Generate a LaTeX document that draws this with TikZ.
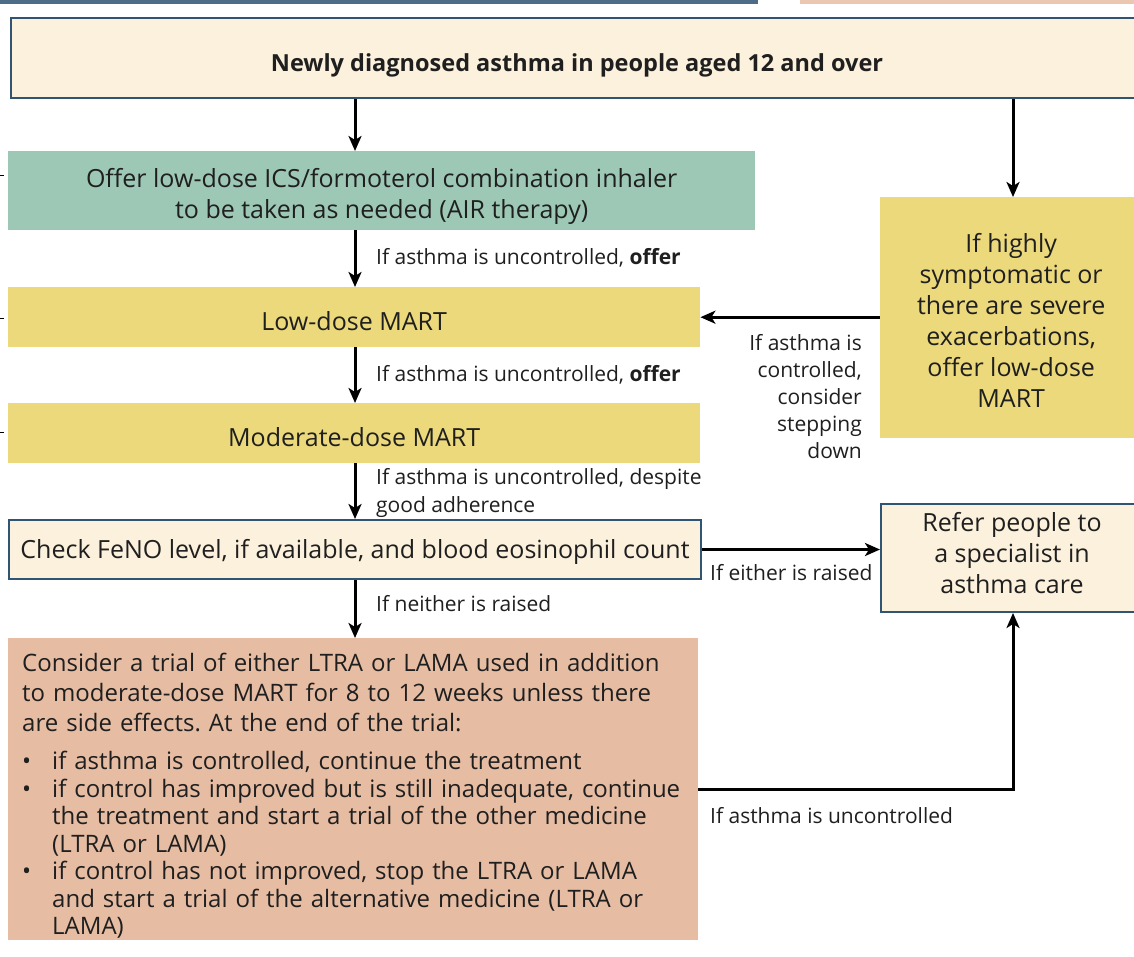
\documentclass[tikz,border=0pt]{standalone}
\usepackage{fontspec}
\setmainfont{Open Sans}
\usetikzlibrary{arrows.meta}

\definecolor{cream}{HTML}{FBF1DC}
\definecolor{edgeblue}{HTML}{2F5474}
\definecolor{sage}{HTML}{9DC8B5}
\definecolor{mustard}{HTML}{ECD97C}
\definecolor{peach}{HTML}{E6BCA3}
\definecolor{barblue}{HTML}{4C6C88}
\definecolor{barpeach}{HTML}{EBC7B2}

\frenchspacing
% vertical struts that set where a box's text sits
\newcommand{\topstrut}[1]{\rule{0pt}{#1}}
\newcommand{\botstrut}[1]{\rule[-#1]{0pt}{0pt}}

\begin{document}
\begin{tikzpicture}[x=1pt,y=-1pt,
  box/.style={anchor=north west, inner sep=0pt, align=center,
    font=\fontsize{25}{31}\selectfont, text=black!88},
  framed/.style={box, fill=cream, draw=edgeblue, line width=2pt},
  lbl/.style={inner sep=0pt, font=\fontsize{21}{27}\selectfont, text=black!88},
  arr/.style={line width=3pt, -{Stealth[length=15pt,width=13pt,inset=4pt]}}
]
\useasboundingbox (0,0) rectangle (1134,956);
\clip (0,0) rectangle (1134,956);
\fill[white] (0,0) rectangle (1134,956);

% edges of the panels that sit above this chart
\fill[barblue] (0,0) rectangle (758,4);
\fill[barpeach] (800,0) rectangle (1134,4);

% small marks on the left margin
\foreach \yy in {175,318,432} \draw[black, line width=0.8pt] (0,\yy) -- (4,\yy);

% boxes
\node[framed, minimum width=1132pt, minimum height=80pt,
  font=\bfseries\fontsize{23.5}{28}\selectfont] (start) at (10,17)
  {\topstrut{32pt}Newly diagnosed asthma in people aged 12 and over};

\node[box, fill=sage, minimum width=747pt, minimum height=79pt] (air) at (8,151)
  {\topstrut{31pt}Offer low-dose ICS/formoterol combination inhaler\\to be taken as needed (AIR therapy)};

\node[box, fill=mustard, minimum width=692pt, minimum height=60pt,
  text height=27pt, text depth=0pt] (lowmart) at (8,287)
  {Low-dose MART};

\node[box, fill=mustard, minimum width=692pt, minimum height=60pt,
  text height=27pt, text depth=0pt] (modmart) at (8,403)
  {Moderate-dose MART};

\node[framed, minimum width=692pt, minimum height=59pt,
  text height=23pt, text depth=6pt] (feno) at (8,519)
  {Check FeNO level, if available, and blood eosinophil count};

\node[box, fill=mustard, minimum width=262pt, minimum height=241pt] (severe) at (880,197)
  {\topstrut{25pt}If highly\\symptomatic or\\there are severe\\exacerbations,\\offer low-dose\\MART};

\node[framed, minimum width=262pt, minimum height=108pt] (refer) at (880,503)
  {Refer people to\\a specialist in\\asthma care\botstrut{10pt}};

\node[box, fill=peach, minimum width=690pt, minimum height=302pt, align=left,
  text width=662pt, inner xsep=14pt, font=\fontsize{24}{30}\selectfont] (trial) at (8,638)
  {\topstrut{32pt}Consider a trial of either LTRA or LAMA used in addition\\
   to moderate-dose MART for 8 to 12 weeks unless there\\
   are side effects. At the end of the trial:\\[8pt]
   \makebox[30pt][l]{\textbullet}if asthma is controlled, continue the treatment\\[-2.5pt]
   \makebox[30pt][l]{\textbullet}if control has improved but is still inadequate, continue\\[-2.5pt]
   \hspace*{30pt}the treatment and start a trial of the other medicine\\[-2.5pt]
   \hspace*{30pt}(LTRA or LAMA)\\[-2.5pt]
   \makebox[30pt][l]{\textbullet}if control has not improved, stop the LTRA or LAMA\\[-2.5pt]
   \hspace*{30pt}and start a trial of the alternative medicine (LTRA or\\[-2.5pt]
   \hspace*{30pt}LAMA)};

% connectors
\coordinate (colx) at (355,0);
\coordinate (colr) at (1013,0);
\draw[arr] (start.south -| colx) -- (air.north -| colx);
\draw[arr] (start.south -| colr) -- (severe.north -| colr);
\draw[arr] (air.south -| colx) -- (lowmart.north -| colx);
\draw[arr] (lowmart.south -| colx) -- (modmart.north -| colx);
\draw[arr] (modmart.south -| colx) -- (feno.north -| colx);
\draw[arr] (feno.south -| colx) -- (trial.north -| colx);
\draw[arr] (severe.west |- lowmart.east) -- (lowmart.east);
\draw[arr] (feno.east) -- (refer.west |- feno.east);
\draw[arr] (trial.east) -| (refer.south -| colr);

% connector labels
\node[lbl, anchor=west] (l1) at (376,258) {If asthma is uncontrolled, \textbf{offer}};
\node[lbl, anchor=west] (l2) at (376,375) {If asthma is uncontrolled, \textbf{offer}};
\node[lbl, anchor=north west, align=left, font=\fontsize{21}{28}\selectfont] (l3) at (376,468)
  {If asthma is uncontrolled, despite\\good adherence};
\node[lbl, anchor=west] (l4) at (376,604) {If neither is raised};
\node[lbl, anchor=west] (l5) at (710,573) {If either is raised};
\node[lbl, anchor=west] (l6) at (710,816) {If asthma is uncontrolled};
\node[lbl, anchor=north east, align=right] (l7) at (862,334)
  {If asthma is\\controlled,\\consider\\stepping\\down};
\end{tikzpicture}
\end{document}
